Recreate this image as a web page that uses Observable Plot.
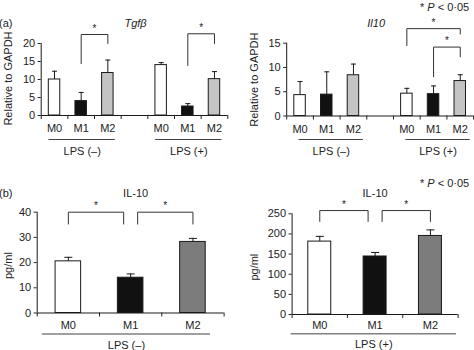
<!DOCTYPE html>
<html><head><meta charset="utf-8">
<script src="https://cdn.jsdelivr.net/npm/d3@7"></script>
<script src="https://cdn.jsdelivr.net/npm/@observablehq/plot@0.6"></script>
<style>
body{margin:0;background:#fff;}
#fig{position:relative;width:474px;height:350px;overflow:hidden;font-family:"Liberation Sans",Arial,Helvetica,sans-serif;color:#222;background:#fff;}
#fig svg{position:absolute;overflow:visible;}
.lab{position:absolute;font-size:11px;line-height:13px;white-space:nowrap;color:#222;z-index:5;}
</style></head><body><div id="fig"></div>
<script>
const FONT = '"Liberation Sans", Arial, Helvetica, sans-serif';

const groups = ["LPS (–)", "LPS (+)"];
const cells = ["M0", "M1", "M2"];
const fillsA = ["#ffffff", "#111111", "#c4c4c4"];
const fillsB = ["#ffffff", "#111111", "#7c7c7c"];

// (a) Tgfβ relative to GAPDH — order: LPS(–) M0,M1,M2 then LPS(+) M0,M1,M2
const tgfbMean  = [10.0, 4.0, 11.8, 14.0, 2.5, 10.1];
const tgfbUpper = [12.3, 6.4, 15.4, 14.7, 3.3, 12.2];
const tgfbTicks = [0, 5, 10, 15, 20];
// significance brackets: [group, from, to, top, from-leg end, to-leg end]
const tgfbSig = [["LPS (–)", "M1", "M2", 22.5, 14.4, 20.0], ["LPS (+)", "M1", "M2", 22.7, 13.9, 20.0]];

// (a) Il10 relative to GAPDH
const il10Mean  = [4.3, 4.4, 8.4, 4.6, 4.5, 7.2];
const il10Upper = [7.1, 9.1, 10.7, 5.7, 6.2, 8.5];
const il10Ticks = [0, 5, 10, 15];
const il10Sig = [["LPS (+)", "M0", "M2", 18.0, 14.5, 16.9], ["LPS (+)", "M1", "M2", 14.2, 8.1, 12.2]];

// (b) IL-10 protein, pg/ml, LPS(–)
const protMinusMean  = [20.5, 14.0, 28.2];
const protMinusUpper = [22.1, 15.5, 29.6];
const protMinusTicks = [0, 10, 20, 30, 40];
const protMinusSig = [["LPS (–)", "M0", "M1", 40, 35.3, 35.3], ["LPS (–)", "M1", "M2", 40, 35.3, 35.3]];

// (b) IL-10 protein, pg/ml, LPS(+)
const protPlusMean  = [181, 144, 195];
const protPlusUpper = [194, 154, 210];
const protPlusTicks = [0, 50, 100, 150, 200, 250];
const protPlusSig = [["LPS (+)", "M0", "M1", 258, 231, 231], ["LPS (+)", "M1", "M2", 258, 231, 231]];

function panel(o) {
  const stride = o.groups.length > 1 ? 4 : 3;
  const rows = o.mean.map((m, i) => {
    const g = Math.floor(i / 3), c = i % 3;
    return {group: o.groups[g], cell: cells[c], slot: g * stride + c, mean: m, upper: o.upper[i], fill: o.fills[c]};
  });
  const nSlots = o.groups.length > 1 ? 7 : 3;
  const step = (o.width - o.mL - o.mR) / nSlots;
  const px = v => v / step;
  const slotOf = (g, c) => rows.find(r => r.group === g && r.cell === c).slot;
  const boundaries = d3.range(nSlots + 1).map(i => i - 0.5);
  const labelOf = new Map(rows.map(r => [r.slot, r.cell]));

  const sig = o.sig.map(([g, from, to, top, l, r], k) => {
    const sharedFrom = o.sig.some(s => s[0] === g && s[2] === from);
    const sharedTo = o.sig.some(s => s[0] === g && s[1] === to);
    const xl = slotOf(g, from) + (sharedFrom ? px(o.inset) : 0);
    const xr = slotOf(g, to) - (sharedTo ? px(o.inset) : 0);
    return {k, xl, xr, top, l, r};
  });
  const sigPts = sig.flatMap(s => [
    {k: s.k, x: s.xl, y: s.l}, {k: s.k, x: s.xl, y: s.top},
    {k: s.k, x: s.xr, y: s.top}, {k: s.k, x: s.xr, y: s.r}
  ]);
  const spans = o.groups.map(g => {
    const sl = rows.filter(r => r.group === g).map(r => r.slot);
    const x1 = d3.min(sl) - px(o.spanPad[0]), x2 = d3.max(sl) + px(o.spanPad[1]);
    return {group: g, x1, x2, mid: (x1 + x2) / 2};
  });
  const capHalf = px(o.capPx / 2);
  const bw = o.barFrac;

  const svg = Plot.plot({
    width: o.width, height: o.height,
    marginLeft: o.mL, marginRight: o.mR, marginTop: o.mT, marginBottom: o.mB,
    style: {fontFamily: FONT, fontSize: "11px", color: "#222", background: "transparent", overflow: "visible"},
    x: {type: "linear", domain: [-0.5, nSlots - 0.5], axis: null},
    y: {domain: [0, o.yMax], axis: null},
    color: {type: "identity"},
    marks: [
      Plot.rectY(rows, {x1: d => d.slot - bw / 2, x2: d => d.slot + bw / 2, y1: 0, y2: "mean", fill: "fill", stroke: "#1a1a1a", strokeWidth: 1}),
      Plot.ruleX(rows, {x: "slot", y1: "mean", y2: "upper", stroke: "#1a1a1a", strokeWidth: 1}),
      Plot.link(rows, {x1: d => d.slot - capHalf, x2: d => d.slot + capHalf, y1: "upper", y2: "upper", stroke: "#1a1a1a", strokeWidth: 1}),
      Plot.ruleY([0], {x1: -0.5, x2: nSlots - 0.5, stroke: "#1a1a1a", strokeWidth: 1}),
      Plot.ruleX([-0.5], {y1: 0, y2: o.yMax, stroke: "#1a1a1a", strokeWidth: 1}),
      Plot.axisY({ticks: o.ticks, tickSize: 3, tickPadding: o.tickPad, label: null, fontSize: 11}),
      Plot.axisX({ticks: boundaries, tickSize: 4, tickFormat: () => "", label: null}),
      Plot.axisX({ticks: rows.map(r => r.slot), tickSize: 0, tickPadding: o.xLabPad, tickFormat: s => labelOf.get(s), label: null, fontSize: 11}),
      Plot.ruleY(spans, {y: () => 0, x1: "x1", x2: "x2", dy: o.spanDy, stroke: o.spanColor, strokeWidth: o.spanWidth}),
      Plot.text(spans, {x: "mid", y: () => 0, text: "group", dy: o.groupDy, lineAnchor: "middle", fontSize: 11}),
      Plot.line(sigPts, {x: "x", y: "y", z: "k", stroke: "#333", strokeWidth: 1}),
      Plot.text(sig, {x: d => (d.xl + d.xr) / 2, y: "top", text: () => "*", dy: -6, fontSize: 10, lineAnchor: "middle"}),
      Plot.text([o.title], {frameAnchor: "top", textAnchor: "middle", lineAnchor: "middle", dx: o.titleDx, dy: o.titleDy, fontStyle: o.italic ? "italic" : "normal", fontSize: 11}),
      Plot.text([o.yLabel], {frameAnchor: "left", textAnchor: "middle", lineAnchor: "middle", rotate: -90, dx: o.yLabDx, dy: o.yLabDy, fontSize: 11})
    ]
  });
  svg.style.left = o.left + "px";
  svg.style.top = o.top + "px";
  return svg;
}

const fig = document.getElementById("fig");

fig.append(panel({
  groups, mean: tgfbMean, upper: tgfbUpper, fills: fillsA, ticks: tgfbTicks, yMax: 20, sig: tgfbSig,
  left: 0, top: 0, width: 237, height: 160, mL: 40.7, mR: 9.7, mT: 43, mB: 45,
  barFrac: 0.43, capPx: 5, inset: 0, spanPad: [5.5, 7.5], spanDy: 24, spanColor: "#444", spanWidth: 1,
  groupDy: 36, xLabPad: 9, tickPad: 3, title: "Tgfβ", italic: true, titleDx: 1, titleDy: -20,
  yLabel: "Relative to GAPDH", yLabDx: -32.7, yLabDy: -1
}));

fig.append(panel({
  groups, mean: il10Mean, upper: il10Upper, fills: fillsA, ticks: il10Ticks, yMax: 15, sig: il10Sig,
  left: 237, top: 0, width: 237, height: 160, mL: 49.2, mR: 0.9, mT: 42.7, mB: 44.5,
  barFrac: 0.43, capPx: 5, inset: 0, spanPad: [1, 10], spanDy: 23.5, spanColor: "#444", spanWidth: 1,
  groupDy: 35.5, xLabPad: 9, tickPad: 3, title: "Il10", italic: true, titleDx: -4, titleDy: -19.7,
  yLabel: "Relative to GAPDH", yLabDx: -32, yLabDy: 0
}));

fig.append(panel({
  groups: [groups[0]], mean: protMinusMean, upper: protMinusUpper, fills: fillsB, ticks: protMinusTicks, yMax: 40, sig: protMinusSig,
  left: 0, top: 165, width: 237, height: 185, mL: 36.7, mR: 13.4, mT: 46.7, mB: 37.5,
  barFrac: 0.41, capPx: 8, inset: 7, spanPad: [26, 17.5], spanDy: 21, spanColor: "#808080", spanWidth: 1.6,
  groupDy: 32, xLabPad: 8, tickPad: 3, title: "IL-10", italic: false, titleDx: 5, titleDy: -19,
  yLabel: "pg/ml", yLabDx: -28.4, yLabDy: 3
}));

fig.append(panel({
  groups: [groups[1]], mean: protPlusMean, upper: protPlusUpper, fills: fillsB, ticks: protPlusTicks, yMax: 250, sig: protPlusSig,
  left: 237, top: 165, width: 237, height: 185, mL: 54.6, mR: 16.4, mT: 48.3, mB: 36,
  barFrac: 0.415, capPx: 8, inset: 7, spanPad: [28.6, 26], spanDy: 19.3, spanColor: "#808080", spanWidth: 1.6,
  groupDy: 30, xLabPad: 6.5, tickPad: 3, title: "IL-10", italic: false, titleDx: 0, titleDy: -20.6,
  yLabel: "pg/ml", yLabDx: -37.6, yLabDy: 3
}));

// panel letters and significance notes
const notes = [
  {html: "(a)", left: -1, top: 17},
  {html: "(b)", left: -1, top: 187},
  {html: "* <i>P</i> &lt; 0·05", left: 420, top: 1},
  {html: "* <i>P</i> &lt; 0·05", left: 420, top: 177}
];
for (const n of notes) {
  const d = document.createElement("div");
  d.className = "lab";
  d.style.left = n.left + "px";
  d.style.top = n.top + "px";
  d.innerHTML = n.html;
  fig.append(d);
}
</script>
</body></html>
